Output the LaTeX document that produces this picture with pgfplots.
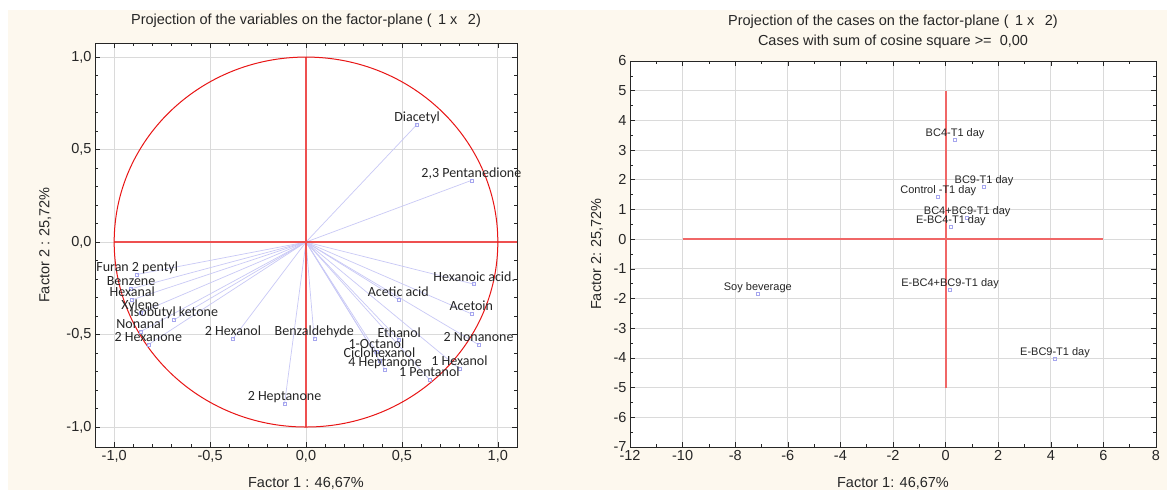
\documentclass[border=0pt]{standalone}
\usepackage{fontspec}
\setmainfont{Liberation Sans}
\newfontfamily\calib{Carlito}
\usepackage{pgfplots}
\usepackage{pgfplotstable}
\pgfplotsset{compat=1.18}

\definecolor{cream}{HTML}{FDF8EE}
\definecolor{vecline}{HTML}{C9C9F6}
\definecolor{markblue}{HTML}{A6A6EE}
\definecolor{refred}{HTML}{E81515}
\definecolor{gridgray}{HTML}{DADADA}

% loadings of the variables on factors 1 and 2
\pgfplotstableread[col sep=semicolon]{
x;y;name
0.579;0.636;Diacetyl
0.862;0.333;2,3 Pentanedione
0.877;-0.228;Hexanoic acid.
0.481;-0.310;Acetic acid
0.862;-0.388;Acetoin
0.900;-0.555;2 Nonanone
0.486;-0.530;Ethanol
0.367;-0.593;1-Octanol
0.383;-0.642;Ciclohexanol
0.412;-0.690;4 Heptanone
0.800;-0.685;1 Hexanol
0.643;-0.743;1 Pentanol
0.043;-0.524;Benzaldehyde
-0.381;-0.523;2 Hexanol
-0.112;-0.875;2 Heptanone
-0.880;-0.175;Furan 2 pentyl
-0.912;-0.253;Benzene
-0.906;-0.312;Hexanal
-0.864;-0.382;Xylene
-0.687;-0.420;Isobutyl ketone
-0.864;-0.485;Nonanal
-0.822;-0.555;2 Hexanone
}\variables

% factor scores of the cases
\pgfplotstableread[col sep=semicolon]{
x;y;name
-7.14;-1.83;Soy beverage
0.17;-1.69;E-BC4+BC9-T1 day
4.16;-4.03;E-BC9-T1 day
0.36;3.35;BC4-T1 day
1.46;1.77;BC9-T1 day
-0.28;1.44;Control -T1 day
0.82;0.73;BC4+BC9-T1 day
0.20;0.43;E-BC4-T1 day
}\cases

\newcommand\statfont{\fontsize{14.5pt}{16pt}\selectfont}

\pgfplotsset{
  statstyle/.style={
    scale only axis,
    anchor=south west,
    axis background/.style={fill=white},
    tick align=inside,
    major tick length=5pt, minor tick length=3pt,
    grid=major,
    major grid style={gridgray, line width=0.8pt},
    axis line style={black!85, line width=0.8pt},
    tick style={black!85, line width=0.6pt},
    ticklabel style={font=\statfont, text=black!85},
    label style={font=\statfont, text=black!85},
    /pgf/number format/assume math mode=true,
    clip mode=individual,
  },
}

\begin{document}
\begin{tikzpicture}
\fill[white] (0,0) rectangle (1167pt,490pt);
\fill[cream] (8pt,0) rectangle (1167pt,480pt);

% ---------- variables ----------
\node[font=\statfont, text=black!85] at (306pt,469pt)
  {Projection of the variables on the factor-plane ( \,1 x \ \,2)};
\begin{axis}[statstyle,
  at={(95pt,43pt)}, width=422pt, height=404pt,
  xmin=-1.1, xmax=1.1, ymin=-1.108, ymax=1.076,
  xtick={-1,-0.5,0,0.5,1}, ytick={-1,-0.5,0,0.5,1},
  minor tick num=4,
  /pgf/number format/use comma,
  /pgf/number format/fixed,
  /pgf/number format/fixed zerofill,
  /pgf/number format/precision=1,
  xlabel={Factor 1 : 46,67\%},
  ylabel={Factor 2 : 25,72\%},
  xlabel style={at={(axis description cs:0.5,-0.089)}, anchor=center},
  ylabel style={at={(axis description cs:-0.118,0.5)}, anchor=center},
]
\addplot[vecline, line width=0.7pt, quiver={u=\thisrow{x}, v=\thisrow{y}}]
  table[x expr=0, y expr=0]{\variables};
\addplot[refred!75, line width=1.8pt] coordinates {(-1,0) (1.1,0)};
\addplot[refred!75, line width=1.8pt] coordinates {(0,-1) (0,1)};
\draw[refred, line width=1pt] (axis cs:0,0) ellipse [x radius=1, y radius=1];
\addplot[only marks, mark=square, mark size=1.5pt,
  mark options={draw=markblue, line width=0.5pt},
  nodes near coords, point meta=explicit symbolic,
  every node near coord/.append style={anchor=base, yshift=3pt, inner sep=0pt,
    font=\calib\fontsize{14pt}{16pt}\selectfont, text=black!85}]
  table[x=x, y=y, meta=name]{\variables};
\end{axis}

% ---------- cases ----------
\node[font=\statfont, text=black!85] at (893pt,468pt)
  {Projection of the cases on the factor-plane ( \,1 x \ \,2)};
\node[font=\statfont, text=black!85] at (893pt,448pt)
  {Cases with sum of cosine square >= \ 0,00};
\begin{axis}[statstyle,
  at={(630pt,43pt)}, width=526pt, height=386pt,
  xmin=-12, xmax=8, ymin=-7, ymax=6,
  xtick={-12,-10,...,8}, ytick={-7,-6,...,6},
  minor x tick num=1, minor y tick num=1,
  xlabel={Factor 1: 46,67\%},
  ylabel={Factor 2: 25,72\%},
  xlabel style={at={(axis description cs:0.5,-0.093)}, anchor=center},
  ylabel style={at={(axis description cs:-0.063,0.5)}, anchor=center},
]
\addplot[refred!65, line width=1.8pt] coordinates {(-10,0) (6,0)};
\addplot[refred!65, line width=1.8pt] coordinates {(0,-5) (0,5)};
\addplot[only marks, mark=square, mark size=1.5pt,
  mark options={draw=markblue, line width=0.5pt},
  nodes near coords, point meta=explicit symbolic,
  every node near coord/.append style={anchor=base, yshift=3pt, inner sep=0pt,
    font=\fontsize{11pt}{13pt}\selectfont, text=black!85}]
  table[x=x, y=y, meta=name]{\cases};
\end{axis}
\end{tikzpicture}
\end{document}
